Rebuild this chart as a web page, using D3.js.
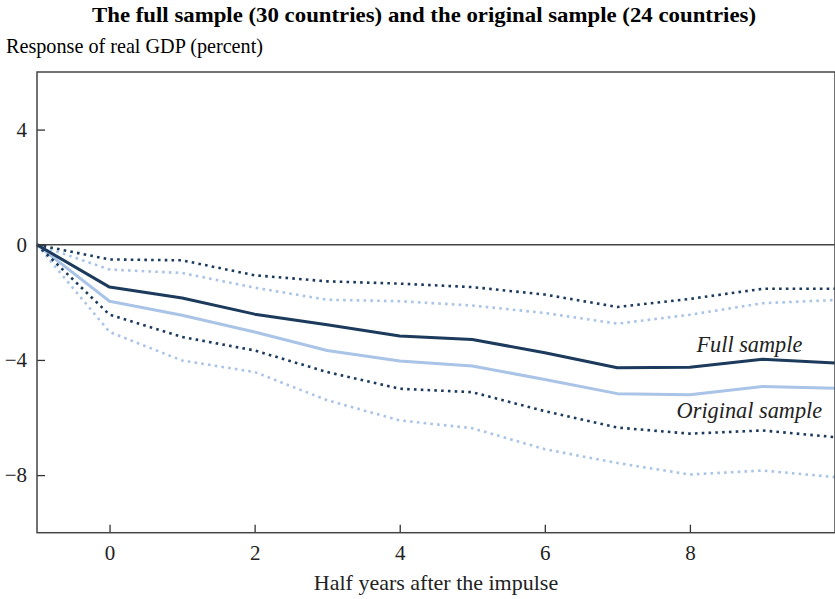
<!DOCTYPE html>
<html>
<head>
<meta charset="utf-8">
<script src="https://cdn.jsdelivr.net/npm/d3@7"></script>
<style>
  body { margin: 0; background: #fff; }
  svg { font-family: "Liberation Serif", "Times New Roman", serif; }
</style>
</head>
<body>
<div id="chart"></div>
<script>
// Data
const periods = [-1, 0, 1, 2, 3, 4, 5, 6, 7, 8, 9, 10]
const fullMean = [0, -1.47, -1.85, -2.41, -2.78, -3.17, -3.29, -3.75, -4.27, -4.25, -3.98, -4.11]
const fullUpper = [0, -0.51, -0.54, -1.06, -1.27, -1.35, -1.47, -1.73, -2.16, -1.88, -1.53, -1.53]
const fullLower = [0, -2.43, -3.2, -3.67, -4.42, -5.0, -5.12, -5.78, -6.35, -6.56, -6.45, -6.68]
const origMean = [0, -1.96, -2.45, -3.03, -3.67, -4.04, -4.21, -4.68, -5.17, -5.21, -4.92, -4.98]
const origUpper = [0, -0.86, -0.98, -1.49, -1.91, -1.96, -2.11, -2.37, -2.74, -2.43, -2.03, -1.92]
const origLower = [0, -3.03, -4.02, -4.42, -5.4, -6.1, -6.37, -7.1, -7.58, -7.98, -7.84, -8.07]
const xTicks = [0, 2, 4, 6, 8]
const yTicks = [4, 0, -4, -8]

const title = "The full sample (30 countries) and the original sample (24 countries)"
const yTitle = "Response of real GDP (percent)"
const xTitle = "Half years after the impulse"

const dark = "#1b3a5c"
const light = "#a9c4e6"

// Dimensions
const dimensions = {
  width: 835,
  height: 599,
  left: 37,
  right: 835,
  top: 72,
  bottom: 532.7
}

const svg = d3.select("#chart")
  .append("svg")
  .attr("width", dimensions.width)
  .attr("height", dimensions.height)

const xScale = d3.scaleLinear()
  .domain([-1, 10])
  .range([dimensions.left, dimensions.right])

const yScale = d3.scaleLinear()
  .domain([-10, 6])
  .range([dimensions.bottom, dimensions.top])

// Titles
svg.append("text")
  .attr("x", 424)
  .attr("y", 22)
  .attr("text-anchor", "middle")
  .attr("font-weight", "bold")
  .attr("font-size", 21.5)
  .attr("textLength", 664)
  .attr("lengthAdjust", "spacingAndGlyphs")
  .text(title)

svg.append("text")
  .attr("x", 6)
  .attr("y", 53)
  .attr("font-size", 21)
  .attr("textLength", 257)
  .attr("lengthAdjust", "spacingAndGlyphs")
  .text(yTitle)

// Zero line
svg.append("line")
  .attr("x1", dimensions.left)
  .attr("x2", dimensions.right)
  .attr("y1", yScale(0))
  .attr("y2", yScale(0))
  .attr("stroke", "#444")
  .attr("stroke-width", 1.5)

// Lines
const line = d3.line()
  .x((d, i) => xScale(periods[i]))
  .y(d => yScale(d))

const series = [
  { values: origUpper, color: light, dotted: true },
  { values: origLower, color: light, dotted: true },
  { values: origMean, color: light, dotted: false },
  { values: fullUpper, color: dark, dotted: true },
  { values: fullLower, color: dark, dotted: true },
  { values: fullMean, color: dark, dotted: false }
]

svg.append("g")
  .selectAll("path")
  .data(series)
  .join("path")
  .attr("d", d => line(d.values))
  .attr("fill", "none")
  .attr("stroke", d => d.color)
  .attr("stroke-width", d => d.dotted ? 2.6 : 3)
  .attr("stroke-dasharray", d => d.dotted ? "2.6 4.2" : null)
  .attr("stroke-linejoin", "round")

// Axes
const xAxis = d3.axisBottom(xScale)
  .tickValues(xTicks)
  .tickSizeInner(-8)
  .tickSizeOuter(0)
  .tickPadding(12)

const yAxis = d3.axisLeft(yScale)
  .tickValues(yTicks)
  .tickSizeInner(-8)
  .tickSizeOuter(0)
  .tickPadding(10)

const xAxisGroup = svg.append("g")
  .attr("transform", `translate(0, ${dimensions.bottom})`)
  .call(xAxis)

const yAxisGroup = svg.append("g")
  .attr("transform", `translate(${dimensions.left}, 0)`)
  .call(yAxis)

for (const g of [xAxisGroup, yAxisGroup]) {
  g.select(".domain").remove()
  g.selectAll("line").attr("stroke", "#333").attr("stroke-width", 1.3)
  g.selectAll("text")
    .attr("font-family", "Liberation Serif, Times New Roman, serif")
    .attr("font-size", 21)
    .attr("fill", "#222")
}

// Frame
svg.append("rect")
  .attr("x", dimensions.left)
  .attr("y", dimensions.top)
  .attr("width", dimensions.right - dimensions.left)
  .attr("height", dimensions.bottom - dimensions.top)
  .attr("fill", "none")
  .attr("stroke", "#444")
  .attr("stroke-width", 1.5)

svg.append("text")
  .attr("x", (dimensions.left + dimensions.right) / 2)
  .attr("y", 590)
  .attr("text-anchor", "middle")
  .attr("font-size", 22)
  .attr("fill", "#222")
  .text(xTitle)

// Series labels
svg.append("text")
  .attr("x", xScale(8.82))
  .attr("y", yScale(-3.74))
  .attr("text-anchor", "middle")
  .attr("font-style", "italic")
  .attr("font-size", 22.3)
  .attr("fill", "#222")
  .text("Full sample")

svg.append("text")
  .attr("x", xScale(8.82))
  .attr("y", yScale(-6.0))
  .attr("text-anchor", "middle")
  .attr("font-style", "italic")
  .attr("font-size", 22.3)
  .attr("fill", "#222")
  .text("Original sample")
</script>
</body>
</html>
